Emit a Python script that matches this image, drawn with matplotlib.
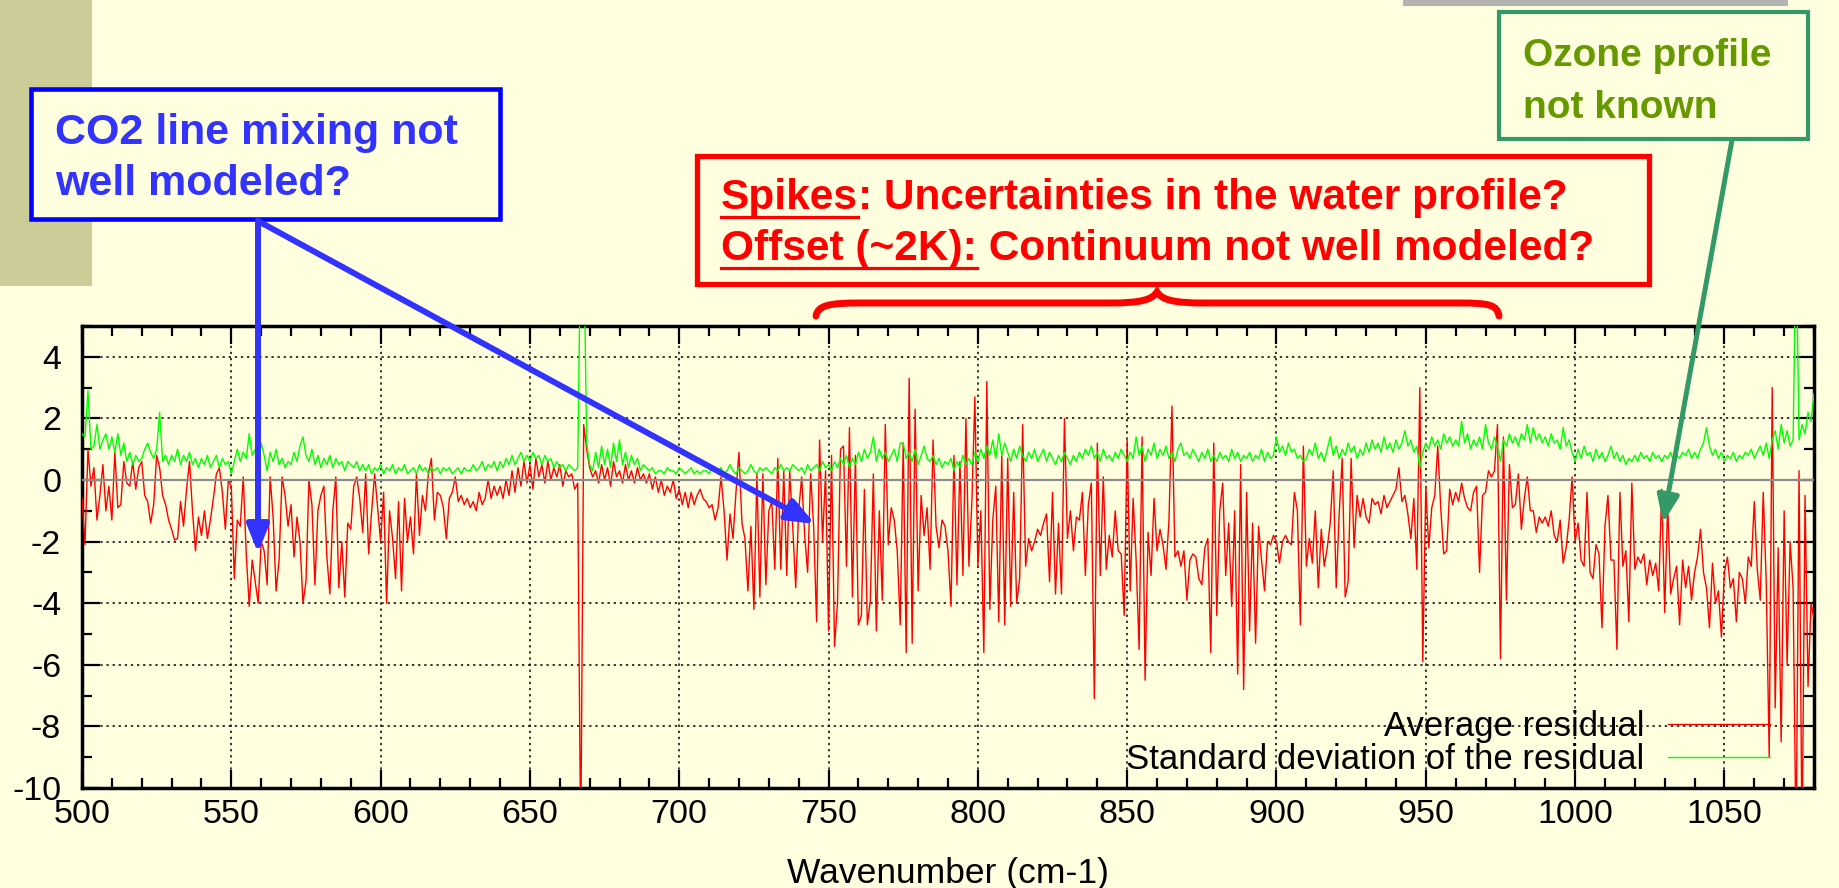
import numpy as np
import matplotlib
matplotlib.use("Agg")
import matplotlib.pyplot as plt
import matplotlib.transforms as mtransforms
from matplotlib.patches import Rectangle, FancyArrowPatch, PathPatch
from matplotlib.path import Path
from matplotlib.lines import Line2D
from matplotlib.ticker import MultipleLocator

plt.rcParams['font.family'] = ['Liberation Sans', 'DejaVu Sans']
plt.rcParams['axes.unicode_minus'] = False

# ---- data (1 cm-1 steps from 500 to 1080) ----
wavenumber = np.arange(500, 1081)

avg_residual = np.array([
    -0.6, -2.1, 1.0, -0.2, 0.4, -1.3, -0.5, 0.5, -1.0, -0.2,      # 500
    -1.3, 0.9, -0.9, -0.8, 0.6, -0.1, -0.2, 0.6, -0.3, 0.4,       # 510
    0.6, -0.5, -0.7, -1.4, -0.8, 0.8, 0.4, -0.5, -0.8, -1.3,      # 520
    -1.6, -1.95, -1.9, -0.7, -1.5, -0.3, 0.6, -1.0, -2.3, -1.2,   # 530
    -1.8, -1.0, -1.9, -1.3, -0.6, 0.2, 0.4, -0.4, -1.6, 0.0,      # 540
    -0.2, -3.2, -1.3, -1.5, 0.1, -2.4, -4.1, -2.6, -3.3, -4.0,    # 550
    -2.0, -2.3, -3.4, 0.1, -1.2, -3.6, -2.6, 0.1, -0.5, -1.5,     # 560
    -0.8, -2.5, -1.2, -2.0, -4.0, -3.3, 0.0, -0.8, -3.4, -1.0,    # 570
    -0.5, -0.2, -2.5, -3.7, -1.0, 0.1, -3.5, -2.0, -3.8, -1.4,    # 580
    -1.6, -0.2, 0.1, -0.6, -1.7, 0.2, -2.4, -1.0, 0.2, -0.9,      # 590
    -2.0, -0.4, -4.0, -1.0, -1.9, -3.2, -0.7, -3.6, -0.6, -2.0,   # 600
    -1.2, -2.4, 0.2, -1.8, -0.5, -1.0, 0.2, 0.7, -1.3, -0.4,      # 610
    -0.5, -0.9, -1.9, -0.6, -0.4, 0.1, -0.7, -0.5, -0.8, -0.6,    # 620
    -0.9, -0.7, -1.0, -0.4, -0.8, -0.6, 0.0, -0.6, -0.2, -0.5,    # 630
    -0.2, -0.6, 0.0, -0.5, 0.3, -0.4, 0.4, -0.2, 0.6, -0.1,       # 640
    0.5, -0.3, 0.7, 0.1, 0.5, -0.1, 0.6, 0.0, 0.4, 0.1,           # 650
    0.5, -0.2, 0.3, 0.1, 0.2, -0.3, -0.1, -12.0, 1.8, 1.0,        # 660
    0.4, 0.1, 0.3, -0.1, 0.5, 0.0, 0.4, -0.2, 0.6, 0.1,           # 670
    0.3, -0.1, 0.5, 0.0, 0.3, -0.1, 0.4, 0.0, 0.2, -0.1,          # 680
    0.2, -0.3, 0.1, -0.4, 0.0, -0.5, -0.2, -0.4, 0.0, -0.6,       # 690
    -0.3, -0.8, -0.4, -0.9, -0.4, -0.8, -0.5, -0.3, -0.6, -0.7,   # 700
    -0.9, -0.8, -1.3, -0.9, 0.1, -1.0, -2.6, -1.1, -1.9, -0.4,    # 710
    0.9, -1.4, -1.9, -3.6, -1.5, -4.2, 0.2, -3.8, 0.2, -3.4,      # 720
    -1.0, -0.7, -2.9, 0.7, -2.9, 0.3, -3.1, 0.3, -1.5, -3.5,      # 730
    -1.0, 0.1, -1.8, -3.0, 0.2, -1.5, -4.6, 1.3, -2.0, 0.3,       # 740
    -4.9, 0.8, -5.4, -4.0, 1.0, 1.1, -2.8, 1.7, -3.8, 0.8,        # 750
    -4.7, -4.4, -0.3, -4.7, -3.9, 0.2, -4.9, -1.0, -3.9, 1.8,     # 760
    -2.1, -0.9, -1.3, -2.3, -4.7, 1.2, -5.6, 3.3, -5.3, 2.3,      # 770
    -3.6, -0.5, -1.8, -0.9, -2.9, 1.3, -1.5, -2.2, -1.3, -1.5,    # 780
    -2.3, -4.1, 0.8, -3.4, 0.6, -3.1, 2.0, -2.8, -0.7, 2.7,       # 790
    -2.8, -1.0, -5.6, 3.2, -4.2, -1.3, -0.2, -4.6, 0.8, -4.7,     # 800
    0.7, -4.1, -0.4, -4.0, -3.2, 1.8, -2.8, -1.9, -2.3, -2.0,     # 810
    -1.6, -1.8, -1.4, -1.1, -3.3, -0.4, -3.7, -1.4, -3.7, 2.0,    # 820
    -1.9, -1.0, -2.3, -1.2, -1.3, -0.4, -3.1, -0.8, -0.1, -7.1,   # 830
    1.2, -3.1, 0.1, -2.9, -1.8, -2.5, -1.0, -2.3, -2.4, -4.4,     # 840
    1.3, -3.6, -0.6, -2.6, -5.5, 1.4, -6.5, -1.7, -3.1, -0.6,     # 850
    -2.3, -1.6, -2.1, -2.9, -1.3, 2.4, -2.5, -2.3, -2.8, -2.3,    # 860
    -3.9, -2.6, -2.4, -2.5, -3.2, -3.4, -2.2, -1.9, -5.6, 1.2,    # 870
    -4.4, -1.0, -0.1, -3.1, -1.4, -4.1, -1.0, -6.3, 0.5, -6.8,    # 880
    -0.4, -4.9, -1.4, -5.3, -1.5, -2.6, -3.6, -2.0, -2.1, -1.8,   # 890
    -2.0, -2.7, -2.0, -1.8, -2.0, -2.1, -0.4, -1.0, -4.7, 1.1,    # 900
    -2.8, -1.9, -2.7, -1.0, -3.5, -1.6, -2.8, -2.2, -1.4, 0.3,    # 910
    -3.5, -1.1, 0.7, -3.8, -3.3, 0.7, -2.2, -0.5, -1.2, -0.6,     # 920
    -1.2, -1.4, -0.6, -0.8, -0.7, -1.1, -0.5, -0.9, -0.7, -0.5,   # 930
    -0.3, 0.4, -0.7, -0.5, -1.1, -1.9, -0.6, -2.9, 3.0, -5.9,     # 940
    -0.2, -2.2, -0.9, -0.5, 1.1, -0.9, -2.4, -2.3, -0.3, -0.8,    # 950
    -0.4, -0.7, -0.1, -0.6, -0.9, -1.0, -0.4, -0.2, -3.0, -0.5,   # 960
    -0.4, 0.3, 0.1, 0.3, 1.8, -5.8, 1.4, -3.9, 0.5, -0.9,         # 970
    -0.8, 0.2, -1.6, -0.6, 0.1, -1.0, -1.0, -1.7, -1.2, -1.4,     # 980
    -1.2, -1.5, -1.0, -1.8, -2.0, -1.3, -2.7, -2.2, -1.3, 0.1,    # 990
    -2.0, -1.4, -2.6, -2.8, -0.4, -3.0, -3.2, -2.1, -2.4, -4.8,   # 1000
    -1.5, -0.5, -2.6, -2.6, -5.5, -0.4, -2.8, -2.3, -4.6, -0.1,   # 1010
    -2.9, -2.5, -2.7, -2.4, -3.4, -2.6, -3.1, -2.7, -3.6, -0.3,   # 1020
    -4.3, -0.8, -3.7, -3.2, -2.8, -4.7, -2.6, -3.5, -2.8, -3.9,   # 1030
    -3.0, -2.5, -1.6, -3.0, -3.5, -4.8, -2.7, -4.0, -3.6, -5.1,   # 1040
    -3.0, -2.5, -3.5, -3.2, -4.6, -3.0, -3.2, -4.0, -2.5, -2.8,   # 1050
    -0.7, -2.9, -3.9, -0.4, -3.3, -9.0, 3.0, -7.4, -2.2, -8.5,    # 1060
    -1.0, -6.0, -2.0, -3.5, -12.0, 0.3, -12.0, -0.5, -6.7, -4.0,  # 1070
    -4.5,
])

std_residual = np.array([
    1.5, 1.4, 2.9, 1.0, 1.1, 1.8, 1.0, 1.3, 1.5, 1.0,   # 500
    1.4, 0.9, 1.5, 0.8, 1.2, 0.6, 0.9, 0.5, 0.8, 0.6,   # 510
    0.7, 1.0, 1.2, 0.9, 0.7, 1.0, 2.2, 0.6, 0.8, 0.5,   # 520
    0.8, 0.6, 1.0, 0.5, 0.8, 0.6, 0.9, 0.5, 0.7, 0.4,   # 530
    0.7, 0.5, 0.8, 0.4, 0.6, 0.8, 0.4, 0.7, 0.5, 0.6,   # 540
    0.2, 0.6, 1.0, 0.6, 0.9, 0.7, 1.5, 0.8, 1.0, 0.4,   # 550
    1.2, 0.8, 0.3, 0.9, 0.6, 1.0, 0.5, 0.7, 0.4, 0.6,   # 560
    0.5, 0.9, 0.6, 1.1, 1.4, 0.8, 0.6, 1.0, 0.5, 0.8,   # 570
    0.4, 0.7, 0.5, 0.8, 0.4, 0.7, 0.5, 0.6, 0.3, 0.6,   # 580
    0.5, 0.4, 0.6, 0.3, 0.5, 0.3, 0.5, 0.2, 0.4, 0.3,   # 590
    0.5, 0.2, 0.4, 0.3, 0.5, 0.2, 0.4, 0.3, 0.5, 0.2,   # 600
    0.3, 0.4, 0.2, 0.5, 0.3, 0.4, 0.2, 0.4, 0.3, 0.4,   # 610
    0.2, 0.4, 0.3, 0.4, 0.2, 0.3, 0.4, 0.2, 0.4, 0.3,   # 620
    0.3, 0.5, 0.3, 0.4, 0.6, 0.3, 0.5, 0.4, 0.6, 0.3,   # 630
    0.6, 0.4, 0.7, 0.5, 0.8, 0.5, 0.7, 0.9, 0.6, 0.8,   # 640
    0.6, 0.9, 0.7, 0.8, 0.5, 0.8, 0.6, 0.7, 0.4, 0.6,   # 650
    0.4, 0.5, 0.3, 0.5, 0.4, 0.3, 0.4, 8.0, 8.0, 1.2,   # 660
    0.5, 0.3, 0.9, 0.4, 1.1, 0.5, 1.0, 0.4, 1.2, 0.6,   # 670
    1.3, 0.5, 0.9, 0.4, 0.8, 0.5, 0.7, 0.3, 0.5, 0.4,   # 680
    0.3, 0.4, 0.2, 0.3, 0.3, 0.2, 0.4, 0.3, 0.3, 0.2,   # 690
    0.4, 0.3, 0.2, 0.3, 0.4, 0.2, 0.3, 0.2, 0.3, 0.3,   # 700
    0.2, 0.4, 0.3, 0.3, 0.4, 0.2, 0.3, 0.5, 0.3, 0.2,   # 710
    0.4, 0.3, 0.2, 0.3, 0.5, 0.3, 0.2, 0.4, 0.3, 0.4,   # 720
    0.3, 0.2, 0.4, 0.3, 0.5, 0.3, 0.4, 0.3, 0.5, 0.4,   # 730
    0.3, 0.4, 0.2, 0.5, 0.3, 0.4, 0.5, 0.3, 0.6, 0.4,   # 740
    0.5, 0.3, 0.6, 0.4, 0.7, 0.5, 0.8, 0.4, 0.7, 0.5,   # 750
    0.9, 0.6, 1.0, 0.7, 0.9, 1.4, 0.6, 1.0, 0.7, 0.9,   # 760
    0.6, 0.8, 1.0, 0.6, 1.2, 1.2, 0.7, 0.9, 0.6, 1.0,   # 770
    0.5, 0.8, 1.1, 0.7, 0.6, 0.8, 0.5, 0.7, 0.4, 0.6,   # 780
    0.5, 0.7, 0.3, 0.6, 0.4, 0.8, 0.5, 0.7, 0.5, 0.9,   # 790
    0.6, 1.0, 0.7, 1.1, 0.8, 1.3, 0.7, 1.5, 0.8, 1.2,   # 800
    0.9, 0.6, 1.0, 0.7, 1.1, 0.8, 0.6, 0.9, 0.7, 1.0,   # 810
    0.6, 0.8, 1.0, 0.6, 0.9, 0.7, 0.5, 0.8, 0.6, 0.9,   # 820
    0.7, 0.5, 0.8, 0.6, 0.9, 0.7, 1.0, 0.8, 1.1, 0.7,   # 830
    0.9, 0.6, 1.0, 0.7, 0.8, 0.6, 0.9, 0.7, 1.0, 0.8,   # 840
    0.6, 0.9, 0.7, 1.4, 0.8, 1.1, 0.6, 1.0, 0.8, 1.2,   # 850
    0.7, 1.0, 0.8, 1.1, 0.7, 0.9, 0.6, 1.0, 1.2, 0.8,   # 860
    0.9, 0.7, 1.0, 0.8, 0.6, 0.9, 0.7, 1.0, 0.6, 0.8,   # 870
    0.6, 0.9, 0.7, 0.8, 0.6, 1.0, 0.7, 0.9, 0.6, 0.8,   # 880
    0.7, 0.9, 0.6, 0.8, 0.7, 1.0, 0.6, 0.9, 0.7, 0.8,   # 890
    1.4, 0.9, 1.1, 0.8, 1.2, 0.9, 1.0, 0.7, 0.8, 0.6,   # 900
    0.7, 1.0, 0.8, 1.2, 0.7, 0.9, 0.6, 1.0, 1.4, 0.8,   # 910
    1.1, 0.7, 1.0, 0.8, 1.2, 0.9, 1.1, 0.7, 1.0, 0.8,   # 920
    1.2, 0.9, 1.3, 1.0, 1.2, 0.9, 1.4, 1.0, 1.2, 0.9,   # 930
    1.3, 1.0, 1.2, 1.6, 1.1, 1.3, 0.9, 1.1, 0.4, 0.9,   # 940
    1.2, 1.0, 1.4, 1.1, 1.3, 1.0, 1.5, 1.2, 1.4, 1.1,   # 950
    1.3, 1.1, 1.9, 1.2, 1.5, 1.0, 1.3, 1.1, 1.4, 1.0,   # 960
    1.8, 1.2, 1.0, 1.4, 1.1, 0.6, 1.3, 1.1, 1.5, 1.2,   # 970
    1.4, 1.1, 1.5, 1.3, 1.8, 1.2, 1.7, 1.3, 1.5, 1.2,   # 980
    1.4, 1.1, 1.5, 1.2, 1.3, 1.0, 1.7, 1.1, 1.3, 0.9,   # 990
    0.6, 1.0, 0.7, 1.1, 0.8, 0.9, 0.6, 1.0, 0.7, 0.9,   # 1000
    0.6, 0.8, 1.1, 0.7, 0.9, 0.6, 0.8, 0.5, 0.7, 0.6,   # 1010
    0.8, 0.6, 0.9, 0.7, 0.8, 0.6, 0.9, 0.7, 0.8, 0.6,   # 1020
    0.8, 0.7, 0.9, 0.6, 0.8, 0.7, 0.9, 0.8, 1.0, 0.7,   # 1030
    0.9, 0.7, 1.0, 1.2, 1.7, 1.1, 0.8, 1.0, 0.7, 0.9,   # 1040
    0.6, 0.8, 0.7, 0.9, 0.6, 0.8, 0.7, 0.9, 0.8, 1.0,   # 1050
    0.7, 0.9, 1.1, 0.8, 1.2, 0.7, 1.3, 1.6, 1.0, 1.8,   # 1060
    1.2, 1.6, 1.1, 1.3, 8.0, 1.3, 1.8, 1.5, 2.2, 1.9,   # 1070
    2.8,
])

series_labels = ['Average residual', 'Standard deviation of the residual']
x_ticks = [500, 550, 600, 650, 700, 750, 800, 850, 900, 950, 1000, 1050]
y_ticks = [-10, -8, -6, -4, -2, 0, 2, 4]
x_label = 'Wavenumber (cm-1)'

co2_note = ['CO2 line mixing not', 'well modeled?']
ozone_note = ['Ozone profile', 'not known']
water_note = [[('Spikes', True), (': Uncertainties in the water profile?', False)],
              [('Offset (~2K):', True), (' Continuum not well modeled?', False)]]

# ---- figure ----
W, H = 1839, 888
BG = '#FFFFE0'
fig = plt.figure(figsize=(W / 100, H / 100), dpi=100, facecolor=BG)
# slide pixel coords, origin at top-left
px = mtransforms.Affine2D().scale(1.0 / W, -1.0 / H).translate(0, 1) + fig.transFigure

ax = fig.add_axes([82 / W, 1 - 788 / H, (1814 - 82) / W, (788 - 326) / H])
ax.set_facecolor(BG)
ax.plot(wavenumber, avg_residual, color='#FF0000', lw=1.0, label=series_labels[0], zorder=3)
ax.plot(wavenumber, std_residual, color='#00FF00', lw=1.0, label=series_labels[1], zorder=3)
ax.axhline(0, color='#8C8C8C', lw=1.6, zorder=4)

ax.set_xlim(500, 1080)
ax.set_ylim(-10, 5)
ax.set_xticks(x_ticks)
ax.set_yticks(y_ticks)
ax.xaxis.set_minor_locator(MultipleLocator(10))
ax.yaxis.set_minor_locator(MultipleLocator(1))
ax.grid(True, which='major', color='black', lw=1.1, linestyle=(0, (1.5, 2.5)))
ax.tick_params(which='both', direction='in', top=True, right=True, width=1.6, labelsize=24.5)
ax.tick_params(which='major', length=13)
ax.tick_params(which='minor', length=7)
ax.tick_params(axis='x', pad=8)
ax.tick_params(axis='y', pad=15)
for s in ax.spines.values():
    s.set_linewidth(2.5)
ax.set_xlabel(x_label, fontsize=25.5, labelpad=19)

ax.legend(loc='lower right', bbox_to_anchor=((1770 - 82) / (1814 - 82), (788 - 776) / (788 - 326)),
          markerfirst=False, frameon=False, fontsize=25, handlelength=2.95, handletextpad=0.66,
          labelspacing=0.0, borderpad=0, borderaxespad=0)

# ---- slide decorations ----
fig.add_artist(Rectangle((0, 0), 92, 286, transform=px, facecolor='#CCCC99', edgecolor='none', zorder=0.2))
fig.add_artist(Rectangle((1403, 0), 385, 6, transform=px, facecolor='#B3B3B3', edgecolor='none', zorder=0.2))

fig.add_artist(Rectangle((31, 89), 469, 130, transform=px, facecolor=BG, edgecolor='#0000FF', lw=3.3, zorder=1))
fig.add_artist(Rectangle((697, 156), 952, 128, transform=px, facecolor=BG, edgecolor='#FF0000', lw=3.8, zorder=1))
fig.add_artist(Rectangle((1499, 12), 309, 127, transform=px, facecolor=BG, edgecolor='#339966', lw=3.0, zorder=1))

for i, line in enumerate(co2_note):
    fig.text(55, 144 + 51 * i, line, transform=px, color='#3333FF', fontsize=31, fontweight='bold', va='baseline')
for i, line in enumerate(ozone_note):
    fig.text(1523, 66 + 52 * i, line, transform=px, color='#669900', fontsize=28, fontweight='bold', va='baseline')

renderer = fig.canvas.get_renderer()
for i, parts in enumerate(water_note):
    x, y = 721, 209 + 51 * i
    for s, underline in parts:
        t = fig.text(x, y, s, transform=px, color='#FF0000', fontsize=30.5, fontweight='bold', va='baseline')
        w = t.get_window_extent(renderer=renderer).width
        if underline:
            fig.add_artist(Line2D([x, x + w], [y + 8, y + 8], transform=px, color='#FF0000', lw=2.3))
        x += w

# curly brace under the red note
brace = Path([(816, 316), (818, 305), (830, 303), (860, 303), (1110, 303),
              (1140, 303), (1152, 300), (1157, 292),
              (1162, 300), (1174, 303), (1204, 303), (1460, 303),
              (1490, 303), (1497, 305), (1499, 316)],
             [Path.MOVETO, Path.CURVE4, Path.CURVE4, Path.CURVE4, Path.LINETO,
              Path.CURVE4, Path.CURVE4, Path.CURVE4,
              Path.CURVE4, Path.CURVE4, Path.CURVE4, Path.LINETO,
              Path.CURVE4, Path.CURVE4, Path.CURVE4])
fig.add_artist(PathPatch(brace, transform=px, facecolor='none', edgecolor='#FF0000', lw=5, capstyle='round', zorder=2))


def arrow(p0, p1, color, lw):
    fig.add_artist(FancyArrowPatch(p0, p1, transform=px, arrowstyle='-|>,head_length=1.5,head_width=0.6',
                                   mutation_scale=11, color=color, lw=lw, shrinkA=0, shrinkB=0, zorder=5))


arrow((258, 221), (258, 553), '#3333FF', 4.3)
arrow((258, 221), (815, 524), '#3333FF', 4.3)
arrow((1732, 140), (1663, 523), '#339966', 3.6)

fig.savefig('out.png', dpi=100, facecolor=BG)
